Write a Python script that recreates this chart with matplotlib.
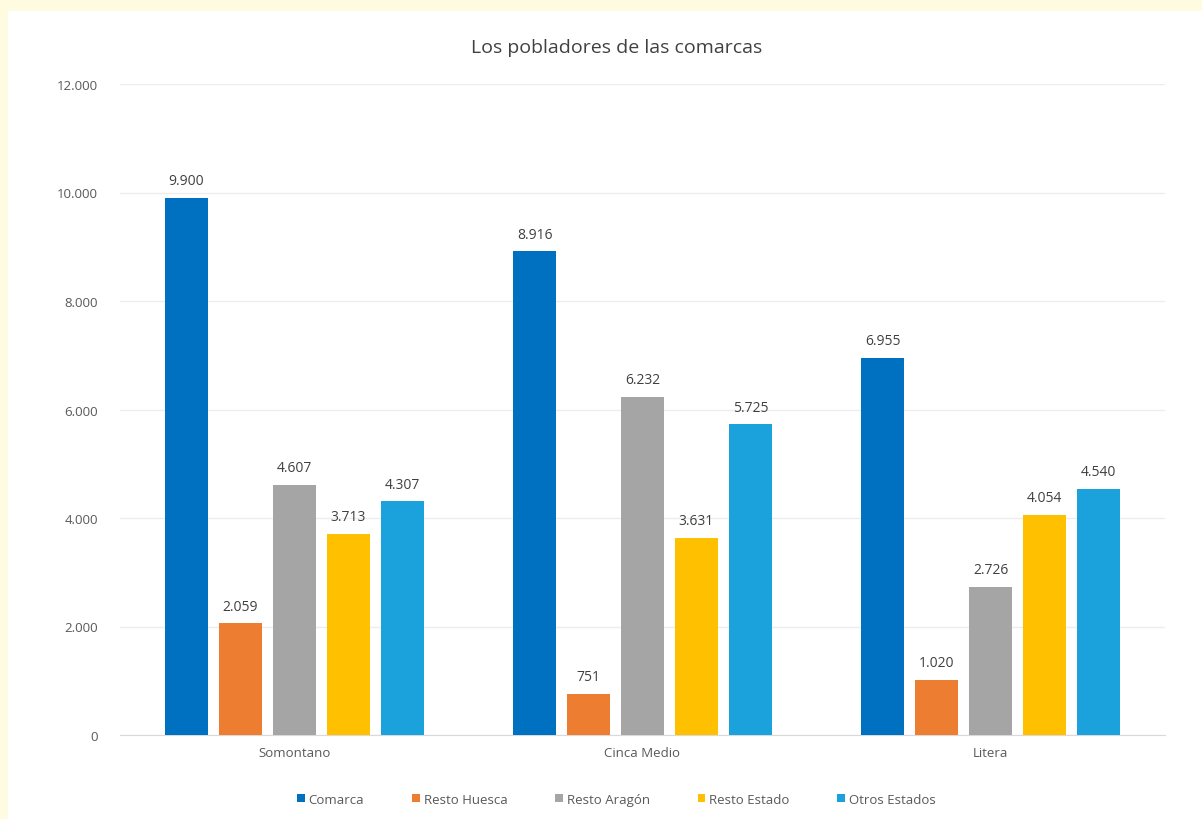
import numpy as np
import matplotlib.pyplot as plt
from matplotlib.patches import Rectangle

plt.rcParams['font.family'] = ['Open Sans', 'DejaVu Sans']

comarcas = ['Somontano', 'Cinca Medio', 'Litera']
series = ['Comarca', 'Resto Huesca', 'Resto Aragón', 'Resto Estado', 'Otros Estados']
comarca = [9900, 8916, 6955]
resto_huesca = [2059, 751, 1020]
resto_aragon = [4607, 6232, 2726]
resto_estado = [3713, 3631, 4054]
otros_estados = [4307, 5725, 4540]
yticks = [0, 2000, 4000, 6000, 8000, 10000, 12000]

colores = ['#0070C0', '#ED7D31', '#A5A5A5', '#FFC000', '#1BA1DB']


def fmt(v):
    return f'{v:,}'.replace(',', '.')


fig = plt.figure(figsize=(12.02, 8.2), dpi=100, facecolor='#FFFBE1')
# zona blanca del grafico
fig.patches.append(Rectangle((8 / 1202, 0), 1 - 8 / 1202, 1 - 12 / 820,
                             transform=fig.transFigure, facecolor='white',
                             edgecolor='none', zorder=-10))

ax = fig.add_axes([120 / 1202, (820 - 736) / 820, 1045 / 1202, (736 - 85) / 820])
ax.set_facecolor('white')

datos = [comarca, resto_huesca, resto_aragon, resto_estado, otros_estados]
x = np.arange(len(comarcas))
paso = 0.155
ancho = 0.123
for i, (nombre, vals) in enumerate(zip(series, datos)):
    pos = x + (i - 2) * paso
    ax.bar(pos, vals, width=ancho, color=colores[i], label=nombre, zorder=3)
    for p, v in zip(pos, vals):
        ax.text(p, v + 180, fmt(v), ha='center', va='bottom',
                fontsize=10, color='#404040')

ax.set_xlim(-0.5, 2.5)
ax.set_ylim(0, 12000)
ax.set_yticks(yticks)
ax.set_yticklabels([fmt(t) for t in yticks])
ax.set_xticks(x)
ax.set_xticklabels(comarcas)
ax.tick_params(axis='both', length=0, labelsize=9.5, colors='#595959')
ax.tick_params(axis='y', pad=16)
ax.tick_params(axis='x', pad=8)
ax.grid(axis='y', color='#EDEDED', linewidth=1, zorder=0)
for s in ['top', 'right', 'left']:
    ax.spines[s].set_visible(False)
ax.spines['bottom'].set_color('#D9D9D9')

fig.text(0.513, 1 - 48 / 820, 'Los pobladores de las comarcas', ha='center',
         va='center', fontsize=14, color='#404040')

ax.legend(loc='center', bbox_to_anchor=(0.475, -0.099), ncol=5, frameon=False,
          fontsize=9.5, handlelength=0.6, handleheight=0.6, columnspacing=3.6,
          handletextpad=0.3, labelcolor='#595959')

fig.savefig('out.png', dpi=100, facecolor=fig.get_facecolor())
